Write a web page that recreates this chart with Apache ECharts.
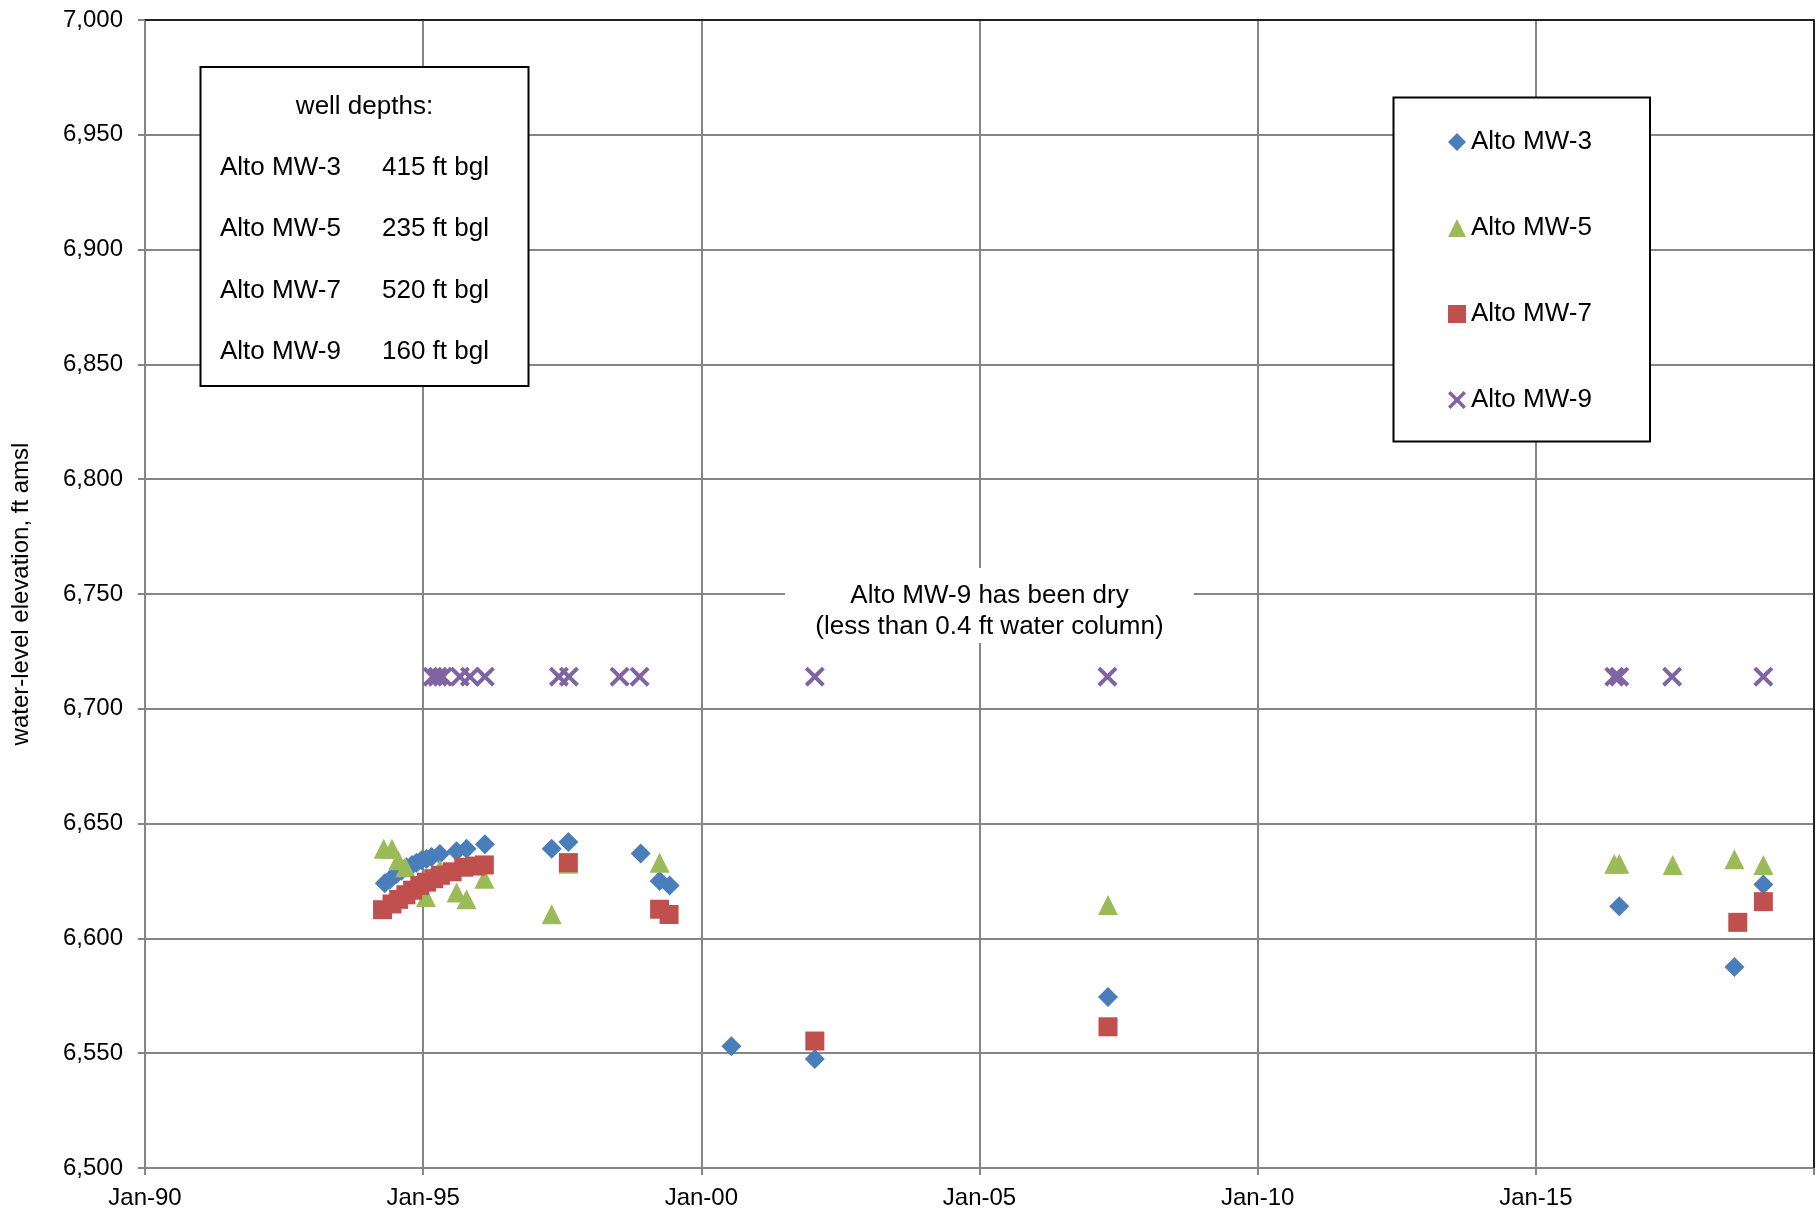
<!DOCTYPE html>
<html>
<head>
<meta charset="utf-8">
<script src="https://cdn.jsdelivr.net/npm/echarts@6/dist/echarts.min.js"></script>
<style>
  html, body { margin: 0; padding: 0; background: #fff; }
  #chart { width: 1818px; height: 1214px; }
</style>
</head>
<body>
<div id="chart"></div>
<script>
// dates as decimal years, levels in ft amsl
const mw3Dates = [1994.31, 1994.40, 1994.52, 1994.61, 1994.70, 1994.80, 1994.88, 1994.97, 1995.06, 1995.15, 1995.30, 1995.60, 1995.78, 1996.11,
  1997.31, 1997.61, 1998.91, 1999.25, 1999.43, 2000.54, 2002.04, 2007.31, 2016.50, 2018.57, 2019.09]
const mw3Levels = [6624, 6625.5, 6628, 6629.5, 6631, 6632, 6633, 6634, 6634.6, 6635.5, 6636.8, 6638, 6639, 6641,
  6639, 6642, 6637, 6625, 6623, 6553, 6547.5, 6574.5, 6614, 6587.5, 6623.5]

const mw5Dates = [1994.29, 1994.44, 1994.55, 1994.68, 1995.05, 1995.30, 1995.60, 1995.78, 1996.10,
  1997.31, 1997.61, 1999.25, 2007.31, 2016.41, 2016.50, 2017.46, 2018.57, 2019.09]
const mw5Levels = [6639, 6639, 6634, 6631, 6618, 6630, 6620, 6617, 6626,
  6610.5, 6632.5, 6633, 6614.5, 6632.5, 6632.5, 6632, 6634.5, 6632]

const mw7Dates = [1994.27, 1994.44, 1994.56, 1994.69, 1994.81, 1994.94, 1995.06, 1995.19, 1995.31, 1995.52, 1995.73, 1995.94, 1996.10,
  1997.61, 1999.25, 1999.42, 2002.04, 2007.31, 2018.63, 2019.09]
const mw7Levels = [6612.5, 6615, 6617, 6619, 6621, 6623, 6624.5, 6626, 6627.5, 6629, 6631, 6631.5, 6632,
  6633, 6612.7, 6610.4, 6555.3, 6561.5, 6607, 6616]

const mw9Dates = [1995.17, 1995.26, 1995.35, 1995.66, 1995.84, 1996.11, 1997.44, 1997.62, 1998.53, 1998.89,
  2002.04, 2007.30, 2016.41, 2016.50, 2017.45, 2019.09]
const mw9Levels = [6714, 6714, 6714, 6714, 6714, 6714, 6714, 6714, 6714, 6714,
  6714, 6714, 6714, 6714, 6714, 6714]

const wellNames = ['Alto MW-3', 'Alto MW-5', 'Alto MW-7', 'Alto MW-9']
const wellDepths = ['415 ft bgl', '235 ft bgl', '520 ft bgl', '160 ft bgl']
const noteLines = ['Alto MW-9 has been dry', '(less than 0.4 ft water column)']

const FONT = '"Liberation Sans", Arial, sans-serif'
const crossPath = 'path://M0,2.8L2.8,0L10,7.2L17.2,0L20,2.8L12.8,10L20,17.2L17.2,20L10,12.8L2.8,20L0,17.2L7.2,10Z'
const icons = ['diamond', 'triangle', 'rect', crossPath]

const pairs = (xs, ys) => xs.map((x, i) => [x, ys[i]])
const txt = (x, y, s, align) => ({
  type: 'text', x, y, z: 5,
  style: { text: s, font: '26px ' + FONT, fill: '#000', textAlign: align || 'left', textVerticalAlign: 'middle' }
})

const chart = echarts.init(document.getElementById('chart'), null, { renderer: 'canvas' })

// well depth box contents
const depthTexts = []
wellNames.forEach((n, i) => {
  const y = 168 + i * 61.3
  depthTexts.push(txt(220, y, n))
  depthTexts.push(txt(382, y, wellDepths[i]))
})

chart.setOption({
  animation: false,
  textStyle: { fontFamily: FONT },
  grid: { left: 145, top: 20, width: 1669, height: 1148 },
  xAxis: {
    type: 'value', min: 1990, max: 2020, interval: 5,
    axisLine: { lineStyle: { color: '#868686', width: 2 } },
    axisTick: { show: true, length: 7, lineStyle: { color: '#868686', width: 2 } },
    axisLabel: {
      color: '#000', fontSize: 24, margin: 18,
      formatter: v => v >= 2020 ? '' : 'Jan-' + String(v).slice(2)
    },
    splitLine: { show: true, lineStyle: { color: '#868686', width: 2 } }
  },
  yAxis: {
    type: 'value', min: 6500, max: 7000, interval: 50,
    name: 'water-level elevation, ft amsl', nameLocation: 'middle', nameGap: 112,
    nameTextStyle: { color: '#000', fontSize: 24 },
    axisLine: { show: true, lineStyle: { color: '#868686', width: 2 } },
    axisTick: { show: true, length: 7, lineStyle: { color: '#868686', width: 2 } },
    axisLabel: { color: '#000', fontSize: 24, margin: 22, formatter: v => v.toLocaleString('en-US') },
    splitLine: { show: true, lineStyle: { color: '#868686', width: 2 } }
  },
  legend: {
    orient: 'vertical', left: 1448, top: 129, itemGap: 60, padding: 0,
    itemWidth: 18, itemHeight: 18,
    textStyle: { fontSize: 26, color: '#000', lineHeight: 26 },
    data: wellNames.map((n, i) => ({ name: n, icon: icons[i] }))
  },
  graphic: [
    { type: 'rect', shape: { x: 200.5, y: 67, width: 328, height: 319 }, z: 1, style: { fill: '#fff', stroke: '#000', lineWidth: 2 } },
    txt(364.5, 107, 'well depths:', 'center'),
    { type: 'rect', shape: { x: 1393.5, y: 97.5, width: 256.5, height: 344 }, z: 1, style: { fill: '#fff', stroke: '#000', lineWidth: 2 } },
    { type: 'rect', shape: { x: 785, y: 568, width: 409, height: 75 }, z: 1, style: { fill: '#fff' } },
    txt(989.5, 596, noteLines[0], 'center'),
    txt(989.5, 627, noteLines[1], 'center'),
    // dark plot-area border on top and right
    { type: 'polyline', z: 1, shape: { points: [[145, 20], [1814, 20], [1814, 1168]] }, style: { stroke: '#000', lineWidth: 1.5, fill: null } }
  ].concat(depthTexts),
  series: [
    { name: wellNames[0], type: 'scatter', symbol: 'diamond', symbolSize: 20, itemStyle: { color: '#4A7EBB', opacity: 1 }, data: pairs(mw3Dates, mw3Levels) },
    { name: wellNames[1], type: 'scatter', symbol: 'triangle', symbolSize: 20, itemStyle: { color: '#9BBB59', opacity: 1 }, data: pairs(mw5Dates, mw5Levels) },
    { name: wellNames[2], type: 'scatter', symbol: 'rect', symbolSize: 19, itemStyle: { color: '#C0504D', opacity: 1 }, data: pairs(mw7Dates, mw7Levels) },
    { name: wellNames[3], type: 'scatter', symbol: crossPath, symbolSize: 20, itemStyle: { color: '#8064A2', opacity: 1 }, data: pairs(mw9Dates, mw9Levels) }
  ]
})
</script>
</body>
</html>
